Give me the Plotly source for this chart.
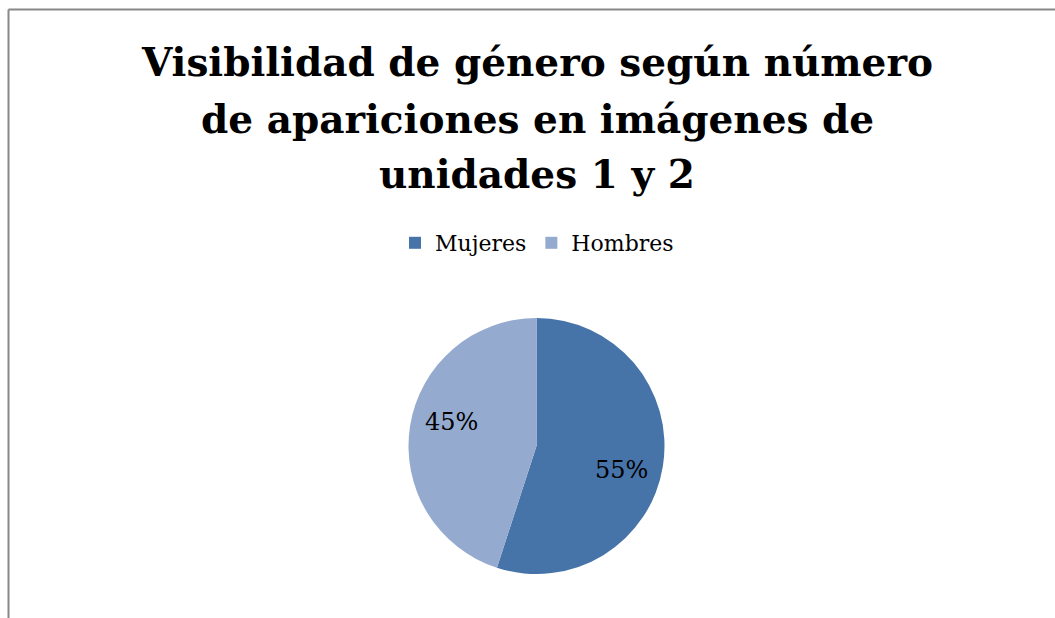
import math
import plotly.graph_objects as go

labels = ["Mujeres", "Hombres"]
values = [55, 45]
colors = ["#4673A8", "#95AACF"]
title_lines = ["Visibilidad de género según número", "de apariciones en imágenes de", "unidades 1 y 2"]

W, H = 1055, 618
cx, cy, r = 536.5, 446, 128
FONT = "DejaVu Serif"

fig = go.Figure(go.Pie(
    labels=labels, values=values, sort=False, direction="clockwise", rotation=0,
    marker=dict(colors=colors, line=dict(width=0)),
    textinfo="none",
    domain=dict(x=[(cx - r) / W, (cx + r) / W], y=[1 - (cy + r) / H, 1 - (cy - r) / H]),
    hoverinfo="label+percent",
))

annotations = []
# title, one annotation per line
title_centers = [62, 119, 174]
for line, yc in zip(title_lines, title_centers):
    annotations.append(dict(text="<b>" + line + "</b>", x=537 / W, y=1 - yc / H,
                            xref="paper", yref="paper", xanchor="center", yanchor="middle",
                            showarrow=False, font=dict(size=39, family=FONT, color="black")))

# percentage labels placed from the data (mid-angle of each slice)
total = sum(values)
start = 0.0
label_r = 0.69 * r
angle_shift = 7.0
for v in values:
    frac = v / total
    mid = (start + frac / 2) * 360 + angle_shift
    start += frac
    a = math.radians(mid)
    px = cx + label_r * math.sin(a)
    py = cy - label_r * math.cos(a)
    annotations.append(dict(text=f"{round(frac * 100)}%", x=px / W, y=1 - py / H,
                            xref="paper", yref="paper", xanchor="center", yanchor="middle",
                            showarrow=False, font=dict(size=24, family=FONT, color="black")))

fig.update_layout(
    width=W, height=H, margin=dict(l=0, r=0, t=0, b=0),
    paper_bgcolor="white", plot_bgcolor="white",
    font=dict(family=FONT, color="black"),
    showlegend=True,
    legend=dict(orientation="h", x=0.509, xanchor="center", y=1 - 243 / H, yanchor="middle",
                font=dict(size=22, family=FONT), itemwidth=30),
    annotations=annotations,
    shapes=[
        dict(type="line", xref="paper", yref="paper", x0=8.5 / W, x1=8.5 / W, y0=0, y1=1 - 9.5 / H,
             line=dict(color="#888888", width=2)),
        dict(type="line", xref="paper", yref="paper", x0=8.5 / W, x1=1, y0=1 - 9.5 / H, y1=1 - 9.5 / H,
             line=dict(color="#888888", width=2)),
    ],
)

fig.write_html("out.html")
